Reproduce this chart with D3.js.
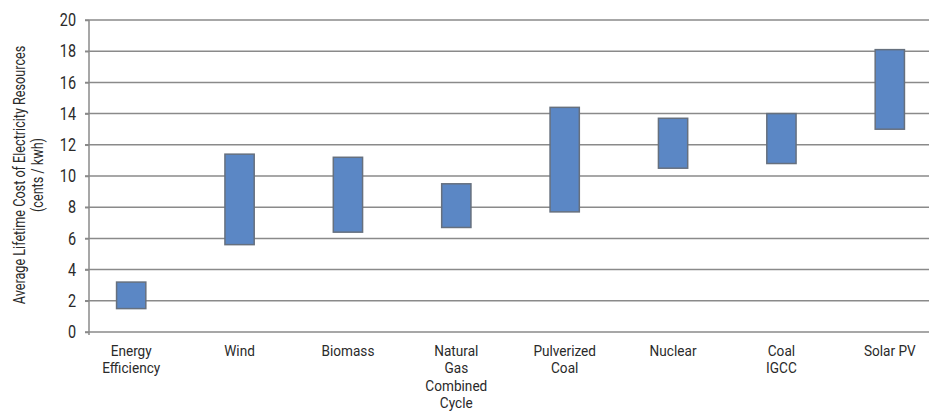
<!DOCTYPE html>
<html>
<head>
<meta charset="utf-8">
<script src="https://cdn.jsdelivr.net/npm/d3@7"></script>
<style>
  html, body { margin: 0; padding: 0; background: #fff; }
  svg { display: block; }
  text { font-family: Roboto, "Liberation Sans", sans-serif; fill: #2a2a2a; }
</style>
</head>
<body>
<svg id="chart" width="929" height="414"></svg>
<script>
// Cost ranges of electricity resources (cents / kWh)
const categories = [
  ["Energy", "Efficiency"],
  ["Wind"],
  ["Biomass"],
  ["Natural", "Gas", "Combined", "Cycle"],
  ["Pulverized", "Coal"],
  ["Nuclear"],
  ["Coal", "IGCC"],
  ["Solar PV"]
];
const lowValues  = [1.5, 5.6, 6.4, 6.7, 7.7, 10.5, 10.8, 13.0];
const highValues = [3.2, 11.4, 11.2, 9.5, 14.4, 13.7, 14.0, 18.1];
const yTicks = [0, 2, 4, 6, 8, 10, 12, 14, 16, 18, 20];
const yTitle = ["Average Lifetime Cost of Electricity Resources", "(cents / kwh)"];

const svg = d3.select("#chart");
const names = categories.map(c => c.join(" "));
const rows = names.map((n, i) => ({ name: n, lines: categories[i], lo: lowValues[i], hi: highValues[i] }));

const axisX = 89, plotTop = 20, plotBottom = 332, plotRight = 929;
const squeeze = 0.8;           // condensed lettering
const gridColor = "#8a8a8a";

const x = d3.scaleBand()
  .domain(names)
  .range([77, 944])
  .paddingInner(0.73)
  .paddingOuter(0.365);

const y = d3.scaleLinear().domain([0, 20]).range([plotBottom, plotTop]);

// horizontal gridlines
svg.append("g")
  .selectAll("line")
  .data(yTicks)
  .join("line")
  .attr("x1", axisX - 4)
  .attr("x2", plotRight)
  .attr("y1", d => y(d))
  .attr("y2", d => y(d))
  .attr("stroke", gridColor)
  .attr("stroke-width", 1.5);

// y axis
const yAxis = svg.append("g")
  .attr("transform", `translate(${axisX},0)`)
  .call(d3.axisLeft(y).tickValues(yTicks).tickSize(4).tickPadding(9));
yAxis.select(".domain").attr("stroke", gridColor).attr("stroke-width", 1.5)
  .attr("d", `M0,${plotTop}V${plotBottom + 3}`);
yAxis.selectAll(".tick line").attr("stroke", gridColor).attr("stroke-width", 1.5);
yAxis.selectAll(".tick text")
  .style("font-family", "Roboto, sans-serif")
  .attr("font-size", 18)
  .attr("fill", "#2a2a2a")
  .attr("x", -13 / squeeze)
  .attr("transform", `scale(${squeeze},1)`);

// floating range bars
svg.append("g")
  .selectAll("rect")
  .data(rows)
  .join("rect")
  .attr("x", d => x(d.name))
  .attr("width", x.bandwidth())
  .attr("y", d => y(d.hi))
  .attr("height", d => y(d.lo) - y(d.hi))
  .attr("fill", "#5b87c5")
  .attr("stroke", "#66707e")
  .attr("stroke-width", 1.5);

// category labels (stacked lines under each bar)
const labelSqueeze = 0.92;
const labels = svg.append("g")
  .selectAll("text")
  .data(rows)
  .join("text")
  .attr("text-anchor", "middle")
  .attr("font-size", 14.8)
  .attr("transform", d => `translate(${x(d.name) + x.bandwidth() / 2},356) scale(${labelSqueeze},1)`);
labels.selectAll("tspan")
  .data(d => d.lines)
  .join("tspan")
  .attr("x", 0)
  .attr("dy", (d, i) => i === 0 ? 0 : 17.4)
  .text(d => d);

// y axis title
svg.append("text")
  .attr("transform", `translate(25,175) rotate(-90) scale(${squeeze},1)`)
  .attr("text-anchor", "middle")
  .attr("font-size", 15.8)
  .selectAll("tspan")
  .data(yTitle)
  .join("tspan")
  .attr("x", 0)
  .attr("dy", (d, i) => i === 0 ? 0 : 18)
  .text(d => d);
</script>
</body>
</html>
